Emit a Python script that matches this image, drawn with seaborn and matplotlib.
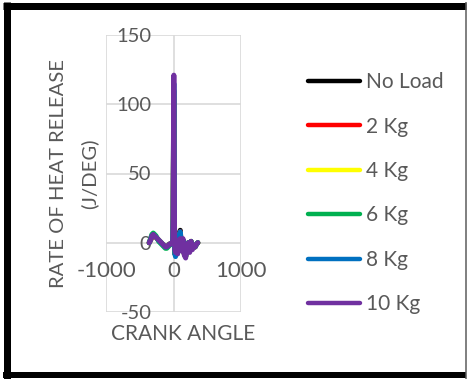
import matplotlib
matplotlib.use("Agg")
import matplotlib.pyplot as plt
from matplotlib.lines import Line2D
import numpy as np
import pandas as pd
import seaborn as sns

# Crank angle (deg) sample points
crank_angle = [-360, -340, -320, -300, -280, -260, -240, -220, -200, -180,
               -160, -140, -120, -100, -80, -60, -40, -20, -10, -5,
               0, 5, 10, 15, 20, 30, 40, 60, 80, 100,
               120, 140, 160, 180, 200, 220, 240, 260, 280, 300,
               320, 340, 360]

# Rate of heat release (J/deg) for each engine load
hrr_no_load = [0, 2, 4, 5, 5, 4, 3, 2, 1, 0,
               -1, -2, -3, -3, -2, -1, -1, 0, 2, 15,
               60, 95, 45, 6, -8, -8, -5, -6, 5, 9,
               -4, 2, -8, -9, -3, 0, -6, 1, -4, -2,
               -3, -1, 0]
hrr_2kg = [0, 2, 4, 5, 5, 4, 3, 2, 1, 0,
           -1, -2, -3, -3, -2, -1, -1, 0, 2, 16,
           65, 100, 48, 7, -7, -8, -5, -6, 4, 8,
           -5, 2, -8, -10, -3, 0, -6, 1, -4, -2,
           -3, -1, 0]
hrr_4kg = [0, 2, 5, 6, 5, 4, 3, 2, 1, 0,
           -1, -2, -3, -3, -2, -1, -1, 0, 2, 17,
           70, 105, 50, 8, -7, -8, -5, -7, 4, 7,
           -5, 2, -8, -10, -3, 0, -6, 1, -4, -2,
           -3, -1, 0]
hrr_6kg = [0, 3, 6, 7, 6, 5, 3, 1, 0, -1,
           -2, -3, -4, -4, -3, -2, -1, 0, 2, 17,
           72, 110, 52, 8, -7, -9, -6, -7, 4, 7,
           -5, 2, -8, -10, -3, 0, -6, 1, -4, -2,
           -3, -1, 0]
hrr_8kg = [0, 2, 5, 6, 5, 4, 3, 2, 1, 0,
           -1, -2, -3, -3, -2, -1, -1, 0, 2, 18,
           75, 115, 55, 8, -8, -10, -7, -8, 4, 8,
           -5, 2, -8, -10, -3, 0, -6, 1, -4, -2,
           -3, -1, 0]
hrr_10kg = [0, 2, 5, 6, 5, 4, 3, 2, 1, 0,
            -1, -2, -3, -3, -2, -1, -1, 0, 2, 20,
            80, 121, 60, 10, -5, -7, -4, -8, 2, 3,
            -6, 3, -9, -11, -4, 0, -7, 1, -5, -2,
            -3, -1, 0]

load_labels = ["No Load", "2 Kg", "4 Kg", "6 Kg", "8 Kg", "10 Kg"]
load_colors = ["#000000", "#FF0000", "#FFFF00", "#00B050", "#0070C0", "#7030A0"]
series = [hrr_no_load, hrr_2kg, hrr_4kg, hrr_6kg, hrr_8kg, hrr_10kg]

x_ticks = [-1000, 0, 1000]
y_ticks = [-50, 0, 50, 100, 150]

df = pd.concat(
    [pd.DataFrame({"Crank Angle": crank_angle, "HRR": vals, "Load": lab})
     for lab, vals in zip(load_labels, series)],
    ignore_index=True,
)

sns.set_style("white")
plt.rcParams["font.family"] = ["Lato", "DejaVu Sans"]
TXT = "#595959"
W, H = 468, 379

fig = plt.figure(figsize=(W / 100, H / 100), dpi=100)
ax = fig.add_axes([106 / W, 67 / H, 135 / W, 277 / H])

sns.lineplot(data=df, x="Crank Angle", y="HRR", hue="Load",
             hue_order=load_labels, palette=load_colors,
             linewidth=3.6, ax=ax, legend=False, sort=False)

ax.set_xlim(-1000, 1000)
ax.set_ylim(-50, 150)
ax.set_xticks(x_ticks)
ax.set_yticks(y_ticks)
ax.set_xticklabels([str(t) for t in x_ticks])
ax.set_yticklabels([str(t) for t in y_ticks])
ax.grid(True, color="#D9D9D9", linewidth=1.2)
ax.set_axisbelow(True)
for gl in ax.get_xgridlines() + ax.get_ygridlines():
    gl.set_clip_on(False)
for sp in ax.spines.values():
    sp.set_visible(False)
ax.spines["left"].set_position(("data", 0))
ax.spines["bottom"].set_position(("data", 0))
ax.tick_params(axis="y", length=0, pad=16, labelsize=14.5, labelcolor=TXT)
ax.tick_params(axis="x", length=0, pad=13, labelsize=16, labelcolor=TXT)

# two-line axis title: first line as the y label, units line beside it
ax.set_ylabel("RATE OF HEAT RELEASE", fontsize=14.6, color=TXT)
ax.yaxis.label.set_va("center")
ax.yaxis.set_label_coords((59 - 106) / 135, 0.5)
ax.text((89 - 106) / 135, 0.5, "(J/DEG)", transform=ax.transAxes,
        rotation=90, ha="center", va="center", fontsize=14.6, color=TXT)

ax.set_xlabel("CRANK ANGLE", fontsize=15, color=TXT)
ax.xaxis.label.set_va("center")
ax.xaxis.set_label_coords((183 - 106) / 135, -22 / 277)

handles = [Line2D([], [], color=c, linewidth=3.2, solid_capstyle="round")
           for c in load_colors]
fig.legend(handles, load_labels, loc="upper left",
           bbox_to_anchor=(300 / W, 1 - 64 / H), frameon=False,
           fontsize=15, labelcolor=TXT, handlelength=2.5,
           handletextpad=0.25, labelspacing=1.17, borderaxespad=0)

# frame around the whole chart
def fline(x0, y0, x1, y1, lw, color):
    fig.add_artist(Line2D([x0 / W, x1 / W], [1 - y0 / H, 1 - y1 / H],
                          transform=fig.transFigure, color=color,
                          linewidth=lw * 0.72, solid_capstyle="butt"))

fline(6.5, 2, 6.5, 379, 7, "black")
fline(3, 5.5, 466, 5.5, 7, "black")
fline(3, 375, 466, 375, 6, "black")
fline(466, 2, 466, 379, 1.5, "#595959")

fig.savefig("out.png", dpi=100)
